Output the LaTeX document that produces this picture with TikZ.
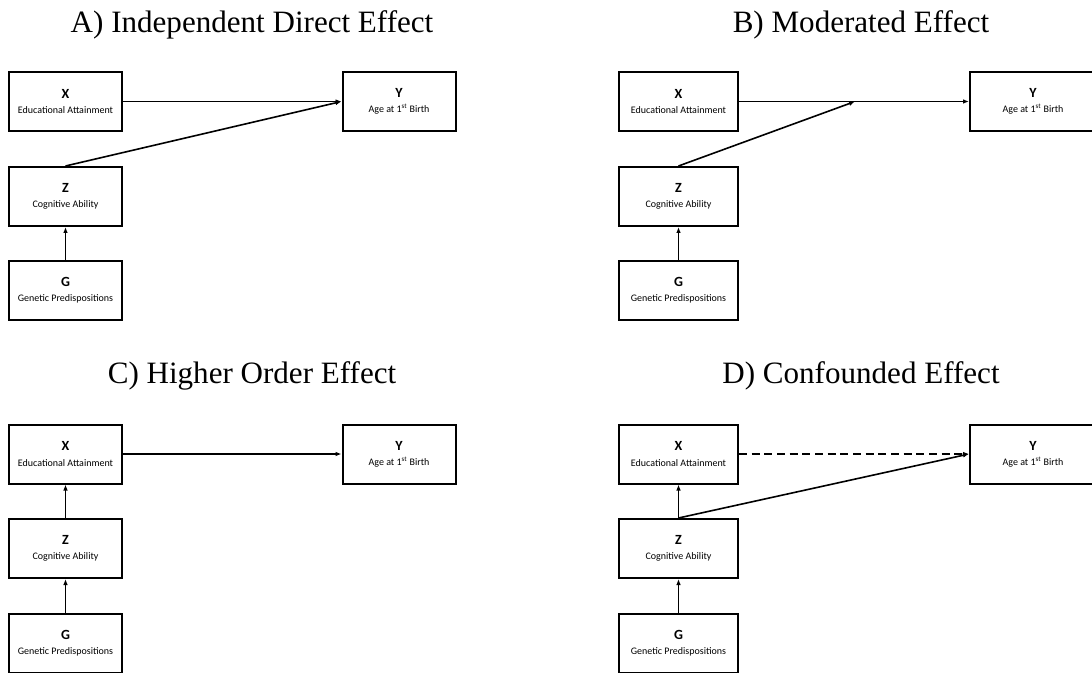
\documentclass[tikz,border=0pt]{standalone}
\usepackage{fontspec}
\setmainfont{Liberation Serif}
\newfontfamily\calfont{Carlito}
\usepackage{tikz}
\usetikzlibrary{arrows.meta}

\begin{document}
\begin{tikzpicture}[x=0.75pt,y=-0.75pt,
  box/.style={draw, line width=1.5pt, minimum width=84.75pt, minimum height=44.25pt,
    inner sep=0pt, align=center, font=\calfont\fontsize{7.5}{11.5}\selectfont},
  widebox/.style={box, minimum width=89.25pt},
  cutbox/.style={box, minimum width=94.5pt},
  arr/.style={-{Latex[length=4.5pt,width=3.5pt]}, line width=1.2pt},
  title/.style={anchor=base, font=\fontsize{23.3}{28}\selectfont}]
\useasboundingbox (0,0) rectangle (1092,673);
\clip (0,0) rectangle (1092,673);

\node[title] (aT) at (252,33) {A) Independent Direct Effect};
\node[title] (bT) at (861,33) {B) Moderated Effect};
\node[title] (cT) at (252,383) {C) Higher Order Effect};
\node[title] (dT) at (861,383) {D) Confounded Effect};

\node[box] (aX) at (65.5,101.5) {{\fontsize{10.5}{11.5}\selectfont\bfseries X}\\Educational Attainment};
\node[box] (aY) at (399,101.5) {{\fontsize{10.5}{11.5}\selectfont\bfseries Y}\\Age at 1\textsuperscript{st} Birth};
\node[box] (aZ) at (65.5,196.5) {{\fontsize{10.5}{11.5}\selectfont\bfseries Z}\\Cognitive Ability};
\node[box] (aG) at (65.5,290.5) {{\fontsize{10.5}{11.5}\selectfont\bfseries G}\\Genetic Predispositions};
\draw[arr] (aX.east) -- (aY.west);
\draw[arr] (aZ.north) -- (aY.west);
\draw[arr] (aG) -- (aZ);

\node[widebox] (bX) at (678.5,101.5) {{\fontsize{10.5}{11.5}\selectfont\bfseries X}\\Educational Attainment};
\node[cutbox] (bY) at (1033,101.5) {{\fontsize{10.5}{11.5}\selectfont\bfseries Y}\\Age at 1\textsuperscript{st} Birth};
\node[widebox] (bZ) at (678.5,196.5) {{\fontsize{10.5}{11.5}\selectfont\bfseries Z}\\Cognitive Ability};
\node[widebox] (bG) at (678.5,290.5) {{\fontsize{10.5}{11.5}\selectfont\bfseries G}\\Genetic Predispositions};
\coordinate (bM) at (855,101.5);
\draw[arr] (bX.east) -- (bY.west);
\draw[arr] (bZ.north) -- (bM);
\draw[arr] (bG) -- (bZ);

\node[box] (cX) at (65.5,454) {{\fontsize{10.5}{11.5}\selectfont\bfseries X}\\Educational Attainment};
\node[box] (cY) at (399,454) {{\fontsize{10.5}{11.5}\selectfont\bfseries Y}\\Age at 1\textsuperscript{st} Birth};
\node[box] (cZ) at (65.5,548.5) {{\fontsize{10.5}{11.5}\selectfont\bfseries Z}\\Cognitive Ability};
\node[box] (cG) at (65.5,643.5) {{\fontsize{10.5}{11.5}\selectfont\bfseries G}\\Genetic Predispositions};
\draw[arr] (cX.east) -- (cY.west);
\draw[arr] (cZ) -- (cX);
\draw[arr] (cG) -- (cZ);

\node[widebox] (dX) at (678.5,454) {{\fontsize{10.5}{11.5}\selectfont\bfseries X}\\Educational Attainment};
\node[cutbox] (dY) at (1033,454) {{\fontsize{10.5}{11.5}\selectfont\bfseries Y}\\Age at 1\textsuperscript{st} Birth};
\node[widebox] (dZ) at (678.5,548.5) {{\fontsize{10.5}{11.5}\selectfont\bfseries Z}\\Cognitive Ability};
\node[widebox] (dG) at (678.5,643.5) {{\fontsize{10.5}{11.5}\selectfont\bfseries G}\\Genetic Predispositions};
\draw[arr, dash pattern=on 6pt off 3.5pt] (dX.east) -- (dY.west);
\draw[arr] (dZ.north) -- (dY.west);
\draw[arr] (dZ) -- (dX);
\draw[arr] (dG) -- (dZ);
\end{tikzpicture}
\end{document}
